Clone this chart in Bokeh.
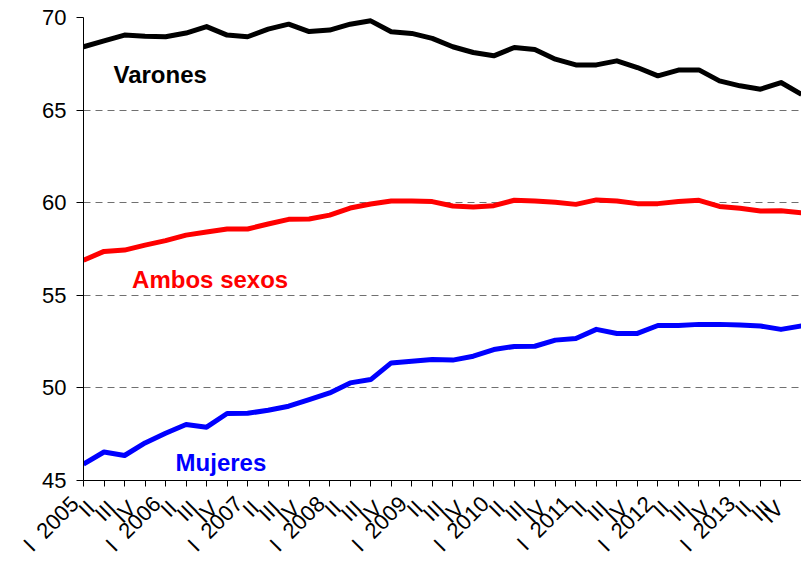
import math
from bokeh.plotting import figure
from bokeh.models import Range1d, FixedTicker, Label
from bokeh.embed import file_html
from bokeh.resources import INLINE

# ---- data ----
years = ["2005", "2006", "2007", "2008", "2009", "2010", "2011", "2012", "2013"]
quarters = ["I", "II", "III", "IV"]

varones = [68.42, 68.74, 69.05, 68.99, 68.96, 69.16, 69.51, 69.05, 68.96, 69.37,
           69.64, 69.24, 69.32, 69.64, 69.82, 69.23, 69.14, 68.87, 68.42, 68.11,
           67.93, 68.38, 68.27, 67.75, 67.44, 67.44, 67.66, 67.30, 66.85, 67.16,
           67.17, 66.58, 66.31, 66.13, 66.49, 65.85]
ambos = [56.89, 57.37, 57.44, 57.71, 57.95, 58.25, 58.42, 58.58, 58.58, 58.85,
         59.10, 59.12, 59.33, 59.71, 59.93, 60.09, 60.09, 60.06, 59.82, 59.77,
         59.84, 60.13, 60.09, 60.02, 59.91, 60.15, 60.09, 59.95, 59.95, 60.06,
         60.13, 59.80, 59.70, 59.55, 59.57, 59.45]
mujeres = [45.89, 46.54, 46.35, 47.03, 47.55, 48.02, 47.88, 48.62, 48.63, 48.79,
           49.01, 49.37, 49.73, 50.27, 50.45, 51.35, 51.44, 51.53, 51.50, 51.71,
           52.07, 52.24, 52.25, 52.58, 52.67, 53.16, 52.94, 52.94, 53.37, 53.37,
           53.43, 53.43, 53.39, 53.34, 53.16, 53.35]
y_ticks = [45, 50, 55, 60, 65, 70]
series_names = ["Varones", "Ambos sexos", "Mujeres"]

# ---- build ----
NB = "\u00a0"
xs = list(range(len(varones)))
overrides = {}
for i in xs:
    q = quarters[i % 4]
    if i % 4 == 0:
        overrides[i] = q + NB * 2 + years[i // 4] + NB * 2
    else:
        overrides[i] = q + NB * 3

FONT = "Liberation Sans"

p = figure(width=801, height=568, output_backend="svg", toolbar_location=None,
           x_range=Range1d(0, len(xs) - 1), y_range=Range1d(y_ticks[0], y_ticks[-1]),
           min_border_left=83, min_border_right=0, min_border_top=17,
           min_border_bottom=0)
p.outline_line_color = None
p.background_fill_color = "white"

p.line(xs, varones, line_color="black", line_width=5, line_join="round")
p.line(xs, ambos, line_color="#FF0000", line_width=5, line_join="round")
p.line(xs, mujeres, line_color="#0000FF", line_width=5, line_join="round")

# y axis
p.yaxis.ticker = FixedTicker(ticks=y_ticks)
p.yaxis.major_tick_out = 7
p.yaxis.major_tick_in = 0
p.yaxis.minor_tick_line_color = None
p.yaxis.axis_line_color = "black"
p.yaxis.major_tick_line_color = "black"
p.yaxis.major_label_standoff = 10
p.yaxis.major_label_text_font = FONT
p.yaxis.major_label_text_font_size = "22px"
p.yaxis.major_label_text_color = "black"

# x axis
p.xaxis.ticker = FixedTicker(ticks=xs)
p.xaxis.major_label_overrides = overrides
p.xaxis.major_label_orientation = math.pi / 4
p.xaxis.major_tick_out = 6
p.xaxis.major_tick_in = 0
p.xaxis.minor_tick_line_color = None
p.xaxis.axis_line_color = "black"
p.xaxis.major_tick_line_color = "black"
p.xaxis.major_label_standoff = 5
p.xaxis.major_label_text_font = FONT
p.xaxis.major_label_text_font_size = "22px"
p.xaxis.major_label_text_color = "black"

# grid
p.xgrid.visible = False
p.ygrid.ticker = FixedTicker(ticks=y_ticks[1:])
p.ygrid.grid_line_color = "#707070"
p.ygrid.grid_line_dash = "7 5"
p.ygrid.grid_line_width = 1

# series labels
label_specs = [(series_names[0], 1.46, 66.92, "black"),
               (series_names[1], 2.37, 55.84, "#FF0000"),
               (series_names[2], 4.49, 45.95, "#0000FF")]
for txt, lx, ly, col in label_specs:
    p.add_layout(Label(x=lx, y=ly, text=txt, text_font=FONT, text_font_style="bold",
                       text_font_size="24px", text_color=col,
                       text_baseline="alphabetic", text_align="left"))

open("out.html", "w").write(file_html(p, INLINE))
